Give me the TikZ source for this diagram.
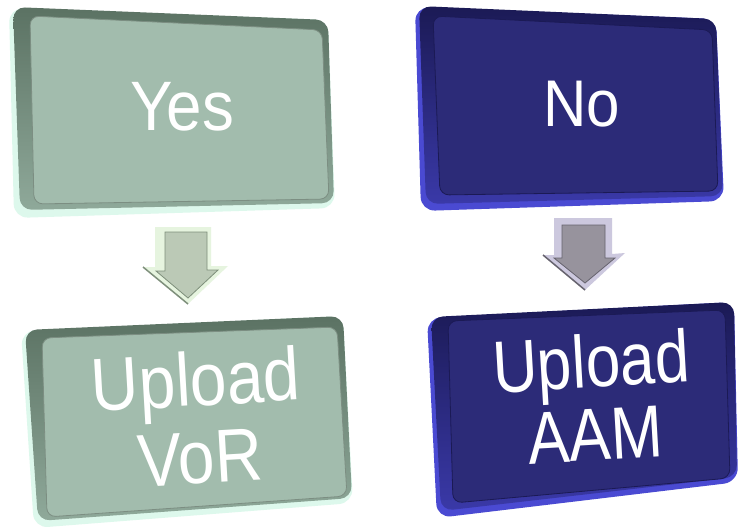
\documentclass[tikz,border=0pt]{standalone}
\usepackage{fontspec}
\setmainfont{Liberation Sans}
\newfontfamily\boxfontA[FakeStretch=0.91]{Liberation Sans}
\newfontfamily\boxfontB[FakeStretch=0.88]{Liberation Sans}
\newfontfamily\boxfontC[FakeStretch=0.84]{Liberation Sans}
\definecolor{glight}{HTML}{DDF8EC}
\definecolor{gdark}{HTML}{5B7263}
\definecolor{gmid}{HTML}{8FA99A}
\definecolor{gface}{HTML}{A2BCAD}
\definecolor{blight}{HTML}{4A4AD2}
\definecolor{bdark}{HTML}{1B1A55}
\definecolor{bmid}{HTML}{3A39A8}
\definecolor{bface}{HTML}{2C2B78}
\definecolor{alight}{HTML}{E6F4DF}
\definecolor{aface}{HTML}{BBC9B6}
\definecolor{adark}{HTML}{7E8F7B}
\definecolor{clight}{HTML}{CCC8DE}
\definecolor{cface}{HTML}{97939D}
\definecolor{cdark}{HTML}{66636E}
\begin{document}
\begin{tikzpicture}[x=1pt,y=-1pt,
  grim/.style={fill=glight, rounded corners=14pt},
  gtop/.style={top color=gdark, bottom color=gmid, rounded corners=12pt},
  gfaced/.style={fill=gface, draw=gdark!80, line width=0.8pt, rounded corners=9pt},
  brim/.style={fill=blight, rounded corners=14pt},
  btop/.style={top color=bdark, bottom color=bmid, rounded corners=12pt},
  bfaced/.style={fill=bface, draw=bdark, line width=0.8pt, rounded corners=9pt},
  lbl/.style={text=white, inner sep=0pt, align=center}]
\useasboundingbox (0,0) rectangle (739,530);
\fill[white] (0,0) rectangle (739,530);

% Box Yes
\fill[grim] (9,8) -- (328,20) -- (335,208) -- (14,218) -- cycle;
\shade[gtop] (13,7) -- (328,20) -- (334,203) -- (20,210) -- cycle;
\filldraw[gfaced] (30,16) -- (322,30) -- (329,199) -- (34,204) -- cycle;
\node[lbl, font=\boxfontA\fontsize{70}{70}\selectfont] (yes) at (182,107) {Yes};

% Box No
\fill[brim] (415,7) -- (716,19) -- (724,201) -- (421,211) -- cycle;
\shade[btop] (419,6) -- (716,19) -- (723,196) -- (426,204) -- cycle;
\filldraw[bfaced] (433,16) -- (712,30) -- (718,191) -- (440,195) -- cycle;
\node[lbl, font=\boxfontA\fontsize{66}{66}\selectfont] (no) at (582,104) {No};

% Arrow left
\fill[alight] (155,227) -- (211,227) -- (211,266) -- (228,266) -- (188,304) -- (143,267) -- (155,267) -- cycle;
\filldraw[fill=aface, draw=adark, line width=0.8pt] (165,232) -- (207,232) -- (207,270) -- (218,270) -- (188,298) -- (156,271) -- (165,271) -- cycle;
\draw[adark, line width=1.5pt] (143,267) -- (188,304);

% Arrow right
\fill[clight] (554,218) -- (612,218) -- (612,254) -- (625,253) -- (585,290) -- (543,255) -- (554,255) -- cycle;
\filldraw[fill=cface, draw=cdark, line width=0.8pt] (562,225) -- (605,225) -- (605,258) -- (615,258) -- (585,283) -- (554,258) -- (562,258) -- cycle;
\draw[cdark, line width=1.5pt] (543,255) -- (585,290);

% Box VoR
\fill[grim] (21,331) -- (343,316) -- (353,503) -- (34,528) -- cycle;
\shade[gtop] (25,330) -- (343,316) -- (352,498) -- (38,521) -- cycle;
\filldraw[gfaced] (42,338) -- (337,327) -- (347,496) -- (47,517) -- cycle;
\node[lbl, rotate=3.3, font=\boxfontB\fontsize{75}{78}\selectfont] (vor) at (198,418) {Upload\\VoR};

% Box AAM
\fill[brim] (427,318) -- (734,302) -- (738,482) -- (437,518) -- cycle;
\shade[btop] (431,317) -- (734,302) -- (737,477) -- (441,511) -- cycle;
\filldraw[bfaced] (448,321) -- (725,310) -- (730,478) -- (453,503) -- cycle;
\node[lbl, rotate=3.3, font=\boxfontC\fontsize{74}{73}\selectfont] (aam) at (593,397) {Upload\\AAM};
\end{tikzpicture}
\end{document}
